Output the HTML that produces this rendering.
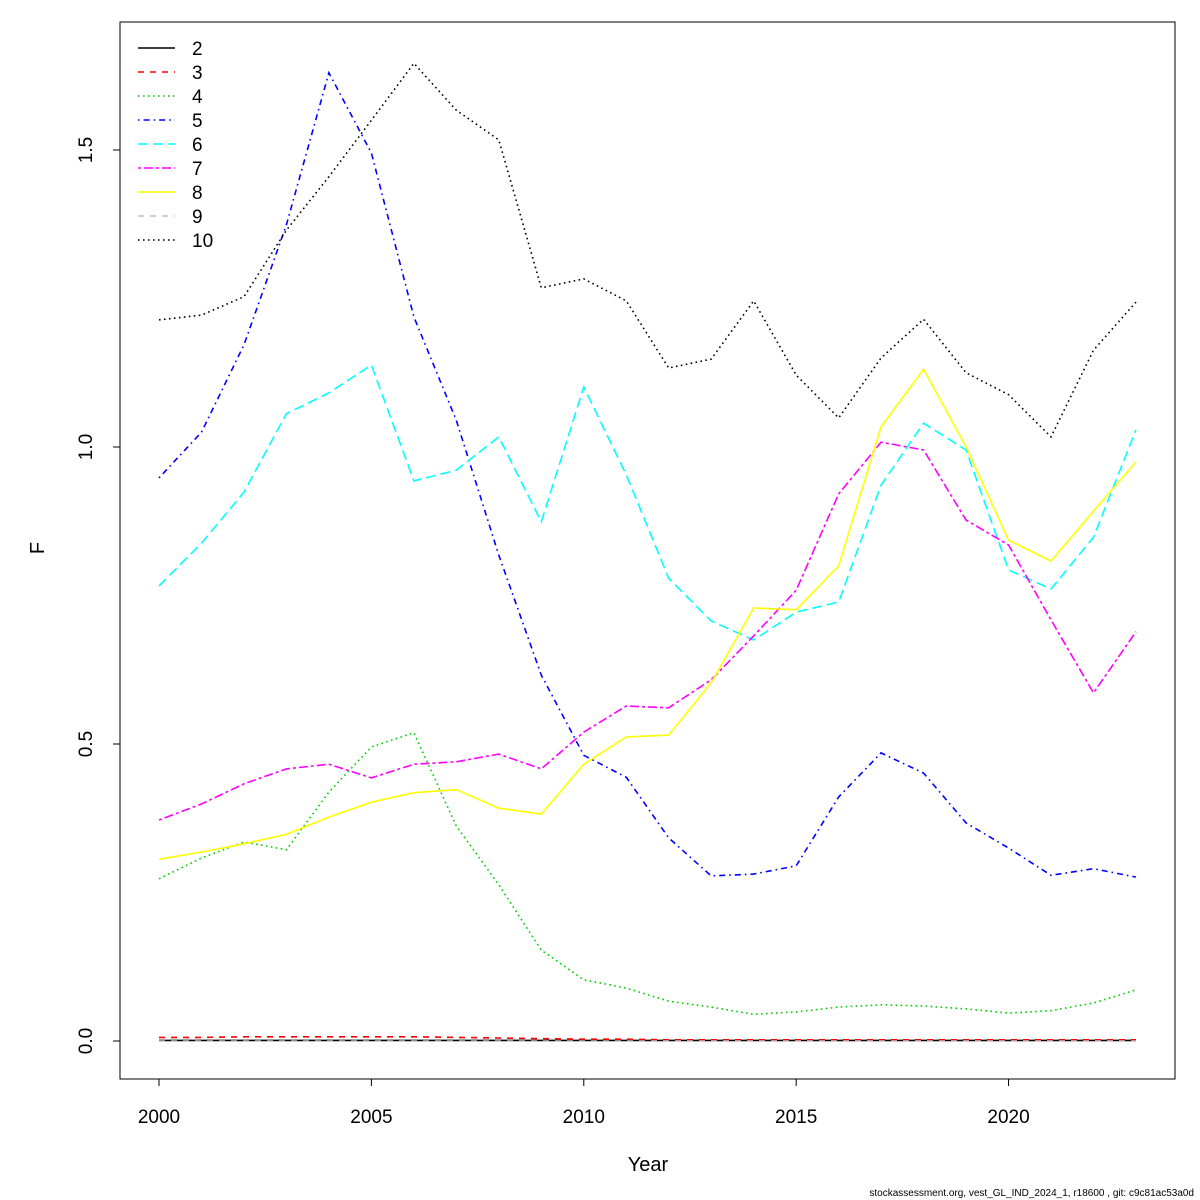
<!DOCTYPE html>
<html><head><meta charset="utf-8"><style>
html,body{margin:0;padding:0;background:#fff;}
svg{display:block;font-family:"Liberation Sans",sans-serif;}
</style></head><body>
<svg id="chart" width="1200" height="1200" viewBox="0 0 1200 1200">
<rect x="120" y="22" width="1055" height="1057" fill="none" stroke="#000" stroke-width="1"/>
<g id="xaxis"></g>
<g id="yaxis"></g>
<g id="series"></g>
<g id="legend"></g>
<text x="648" y="1171" font-size="20" text-anchor="middle">Year</text>
<text x="44" y="548" font-size="20" text-anchor="middle" transform="rotate(-90 44 548)">F</text>
<text x="1194" y="1196" font-size="10" text-anchor="end">stockassessment.org, vest_GL_IND_2024_1, r18600 , git: c9c81ac53a0d</text>
</svg>
<script>
const years = [2000,2001,2002,2003,2004,2005,2006,2007,2008,2009,2010,2011,2012,2013,2014,2015,2016,2017,2018,2019,2020,2021,2022,2023];
const seriesNames = ["2","3","4","5","6","7","8","9","10"];
const age2 = [0.001,0.001,0.001,0.001,0.001,0.001,0.001,0.001,0.001,0.001,0.001,0.001,0.001,0.001,0.001,0.001,0.001,0.001,0.001,0.001,0.001,0.001,0.001,0.001];
const age3 = [0.006,0.006,0.007,0.007,0.007,0.007,0.007,0.006,0.005,0.004,0.003,0.003,0.002,0.002,0.002,0.002,0.002,0.002,0.002,0.002,0.002,0.002,0.002,0.002];
const age4 = [0.273,0.308,0.335,0.322,0.419,0.495,0.519,0.362,0.263,0.153,0.103,0.089,0.067,0.057,0.045,0.049,0.057,0.061,0.059,0.054,0.047,0.051,0.064,0.086];
const age5 = [0.948,1.025,1.172,1.374,1.630,1.495,1.219,1.045,0.818,0.616,0.481,0.444,0.342,0.278,0.281,0.295,0.411,0.485,0.451,0.367,0.325,0.279,0.290,0.276];
const age6 = [0.766,0.838,0.924,1.056,1.091,1.138,0.943,0.961,1.017,0.874,1.101,0.953,0.779,0.707,0.675,0.722,0.739,0.936,1.040,0.995,0.793,0.761,0.848,1.029];
const age7 = [0.372,0.399,0.433,0.458,0.466,0.443,0.466,0.470,0.483,0.458,0.520,0.564,0.561,0.608,0.682,0.759,0.921,1.008,0.995,0.877,0.835,0.709,0.586,0.689];
const age8 = [0.306,0.318,0.332,0.348,0.377,0.402,0.418,0.423,0.392,0.382,0.466,0.512,0.515,0.603,0.729,0.726,0.800,1.034,1.131,1.000,0.843,0.808,0.892,0.975];
const age9 = [0.000,0.000,0.000,0.000,0.000,0.000,0.000,0.000,0.000,0.000,0.000,0.000,0.000,0.000,0.000,0.000,0.000,0.000,0.000,0.000,0.000,0.000,0.000,0.000];
const age10 = [1.214,1.222,1.253,1.365,1.455,1.550,1.646,1.567,1.517,1.268,1.283,1.246,1.133,1.148,1.246,1.121,1.049,1.150,1.215,1.125,1.088,1.017,1.163,1.244];
const xTicks = [2000,2005,2010,2015,2020];
const yTicks = [0.0,0.5,1.0,1.5];
const yTickLabels = ["0.0","0.5","1.0","1.5"];

const allSeries = [age2,age3,age4,age5,age6,age7,age8,age9,age10];
const colors = ["#000","#ff0000","#00cd00","#0000ff","#00ffff","#ff00ff","#ffff00","#bebebe","#000"];
const dashes = ["","6,6","1.6,3.4","1.6,4,6,4","10,5","3,3,9,3","","6,6","1.6,3.4"];
const NS="http://www.w3.org/2000/svg";
function xs(v){return 159+(v-2000)*(1136-159)/23;}
function ys(v){return 1041-v*594;}
function mk(tag,attrs,parent){const e=document.createElementNS(NS,tag);for(const k in attrs)e.setAttribute(k,attrs[k]);parent.appendChild(e);return e;}

const xa=document.getElementById('xaxis');
mk('line',{x1:xs(2000),x2:xs(2020),y1:1079,y2:1079,stroke:'#000'},xa);
xTicks.forEach(t=>{
  const l=mk('line',{x1:xs(t),x2:xs(t),y1:1079,y2:1086,stroke:'#000'},xa);
  
  
  const tx=mk('text',{x:xs(t),y:1123,'font-size':19,'text-anchor':'middle'},xa);
  tx.textContent=t;
  
  
});
const ya=document.getElementById('yaxis');
mk('line',{x1:120,x2:120,y1:ys(0),y2:ys(1.5),stroke:'#000'},ya);
yTicks.forEach((t,i)=>{
  const l=mk('line',{x1:113,x2:120,y1:ys(t),y2:ys(t),stroke:'#000'},ya);
  
  
  const tx=mk('text',{x:92,y:ys(t),'font-size':19,'text-anchor':'middle',transform:`rotate(-90 92 ${ys(t)})`},ya);
  tx.textContent=yTickLabels[i];
  
  
});
const sg=document.getElementById('series');
allSeries.forEach((s,i)=>{
  const pts=s.map((v,j)=>xs(years[j]).toFixed(1)+','+ys(v).toFixed(1)).join(' ');
  const p=mk('polyline',{points:pts,fill:'none',stroke:colors[i],'stroke-width':1.6},sg);
  if(dashes[i])p.setAttribute('stroke-dasharray',dashes[i]);
  
  
});
const lg=document.getElementById('legend');
seriesNames.forEach((n,i)=>{
  const y=48+i*24;
  const l=mk('line',{x1:138,x2:175,y1:y,y2:y,stroke:colors[i],'stroke-width':1.6},lg);
  if(dashes[i])l.setAttribute('stroke-dasharray',dashes[i]);
  
  
  const t=mk('text',{x:192,y:y+7,'font-size':19},lg);
  t.textContent=n;
  
  
});
</script>
</body></html>
